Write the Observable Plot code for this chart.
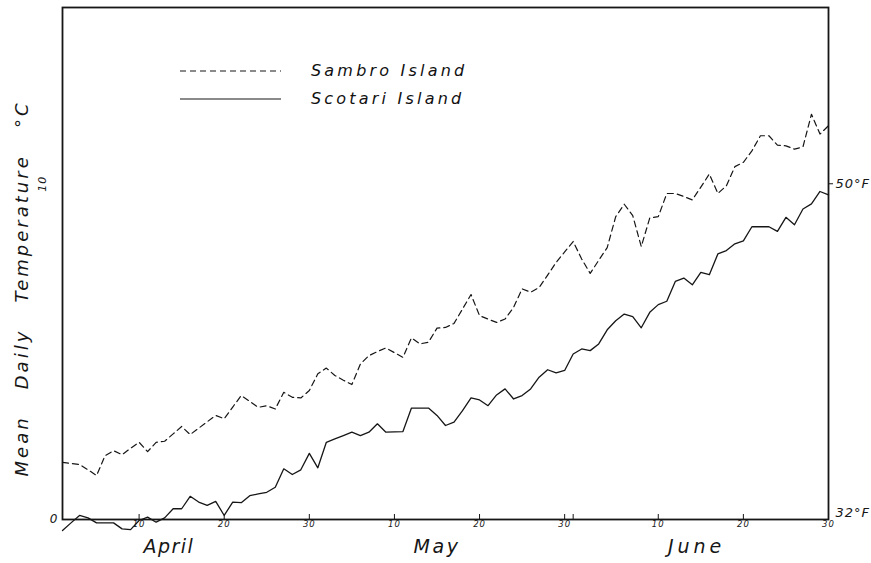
<!DOCTYPE html>
<html><head><meta charset="utf-8">
<script src="https://cdn.jsdelivr.net/npm/d3@7"></script>
<script src="https://cdn.jsdelivr.net/npm/@observablehq/plot@0.6"></script>
<style>
body{margin:0;background:#fff;}
#wrap{position:relative;width:871px;height:563px;overflow:hidden;}
.lg{position:absolute;left:180px;display:flex;align-items:center;font-family:"DejaVu Sans",sans-serif;font-style:italic;font-size:16px;letter-spacing:3.2px;color:#111;}
.lg svg{margin-right:30px;}
</style></head><body><div id="wrap"></div>
<script>
// Day index 0 = April 1, 90 = June 30
const seriesNames = ["Sambro Island", "Scotari Island"];
const sambro = [1.70,1.67,1.64,1.48,1.31,1.90,2.05,1.93,2.12,2.30,
 2.02,2.30,2.33,2.55,2.77,2.53,2.72,2.91,3.10,3.00,
 3.35,3.69,3.52,3.34,3.39,3.29,3.79,3.64,3.62,3.84,
 4.34,4.51,4.29,4.15,4.02,4.63,4.88,5.00,5.11,4.97,
 4.83,5.41,5.23,5.28,5.70,5.72,5.84,6.27,6.70,6.07,
 5.97,5.87,5.97,6.32,6.87,6.77,6.91,7.28,7.66,7.97,
 8.28,7.76,7.33,7.72,8.10,9.02,9.39,9.05,8.13,8.98,
 9.02,9.71,9.71,9.62,9.52,9.90,10.29,9.71,9.94,10.51,
 10.64,10.98,11.43,11.43,11.15,11.13,11.03,11.10,12.07,11.48,
 11.73];
const scotari = [-0.33,-0.10,0.12,0.05,-0.10,-0.10,-0.10,-0.28,-0.30,-0.03,
 0.07,-0.08,0.05,0.32,0.32,0.69,0.52,0.42,0.54,0.12,
 0.52,0.50,0.71,0.76,0.81,0.96,1.51,1.34,1.48,1.97,
 1.54,2.30,2.40,2.50,2.60,2.50,2.60,2.85,2.60,2.61,
 2.62,3.32,3.32,3.32,3.10,2.80,2.90,3.24,3.62,3.56,
 3.39,3.71,3.89,3.59,3.69,3.89,4.24,4.46,4.37,4.44,
 4.93,5.08,5.03,5.23,5.65,5.92,6.12,6.04,5.71,6.17,
 6.40,6.50,7.09,7.19,6.99,7.36,7.29,7.91,8.01,8.21,
 8.30,8.72,8.72,8.72,8.58,9.00,8.78,9.25,9.40,9.77,
 9.67];
const tickDays = [9,19,29,39,49,59,60,70,80,90];
const tickLabels = ["10","20","30","10","20","30","","10","20","30"];
const months = ["April","May","June"];
const monthDays = [12.5,44,74.5];
const yTicksC = [0,10];
const yLabelsC = ["0","10"];
const yLabelsF = ["32°F","50°F"];
const yTitleWords = ["Mean","Daily","Temperature","°C"];
const yTitle = yTitleWords.join("\u00a0\u00a0\u00a0");

const sData = sambro.map((t,i)=>({day:i,t}));
const cData = scotari.map((t,i)=>({day:i,t}));
const font = "'DejaVu Sans', sans-serif";
const ink = "#161616";

const chart = Plot.plot({
  width: 871, height: 563,
  marginLeft: 62, marginRight: 43, marginTop: 7, marginBottom: 44,
  style: {fontFamily: font, fontStyle: "italic", background: "#fff", color: ink, overflow: "visible"},
  x: {domain: [0, 90], axis: null},
  y: {domain: [0, 15.25], axis: null},
  marks: [
    Plot.frame({stroke: ink, strokeWidth: 1.8}),
    Plot.axisX(tickDays, {anchor: "bottom", label: null, tickSize: -5, tickFormat: () => "", stroke: ink}),
    Plot.text(tickDays, {x: d => d, text: (d,i) => tickLabels[i], frameAnchor: "bottom", dy: 7, fontSize: 8.5, fill: ink}),
    Plot.text(months, {x: (d,i) => monthDays[i], text: d => d, frameAnchor: "bottom", dy: 33, fontSize: 19, fill: ink}),
    Plot.text([yTicksC[0]], {y: d => d, text: () => yLabelsC[0], frameAnchor: "left", dx: -5, textAnchor: "end", fontSize: 12, fill: ink}),
    Plot.text([yTicksC[1]], {y: d => d, text: () => yLabelsC[1], frameAnchor: "left", dx: -20, textAnchor: "middle", rotate: -90, fontSize: 11, fill: ink}),
    Plot.text([yTicksC[0]], {y: d => d, text: () => yLabelsF[0], frameAnchor: "right", dx: 7, dy: -7, textAnchor: "start", fontSize: 13, fill: ink}),
    Plot.text([yTicksC[1]], {y: d => d, text: () => yLabelsF[1], frameAnchor: "right", dx: 7, textAnchor: "start", fontSize: 13, fill: ink}),
    Plot.axisY([yTicksC[1]], {anchor: "right", label: null, tickSize: 4, tickFormat: () => "", stroke: ink}),
    Plot.text([yTitle], {frameAnchor: "left", dx: -40, dy: 25, textAnchor: "middle", rotate: -90, fontSize: 18, fill: ink}),
    Plot.line(sData, {x: "day", y: "t", stroke: ink, strokeWidth: 1.2, strokeDasharray: "6,4"}),
    Plot.line(cData, {x: "day", y: "t", stroke: ink, strokeWidth: 1.3})
  ]
});
const wrap = document.getElementById("wrap");
wrap.appendChild(chart);

// letter spacing for the hand-lettered look
const spacing = new Map([[yTitle, 3], ["April", 1.5], ["May", 2.5], ["June", 4], ["32°F", 1], ["50°F", 1]]);
tickLabels.forEach(l => { if (l) spacing.set(l, 1); });
chart.querySelectorAll("text").forEach(t => {
  const s = spacing.get(t.textContent);
  if (s != null) t.style.letterSpacing = s + "px";
});

// legend
const legendItems = [{name: seriesNames[0], dash: "6,4", top: 58}, {name: seriesNames[1], dash: null, top: 86}];
legendItems.forEach(it => {
  const div = document.createElement("div");
  div.className = "lg";
  div.style.top = it.top + "px";
  div.innerHTML = `<svg width="101" height="24"><line x1="0" x2="101" y1="13" y2="13" stroke="${ink}" stroke-width="1.2" ${it.dash ? `stroke-dasharray="${it.dash}"` : ""}/></svg><span>${it.name}</span>`;
  wrap.appendChild(div);
});
</script></body></html>
